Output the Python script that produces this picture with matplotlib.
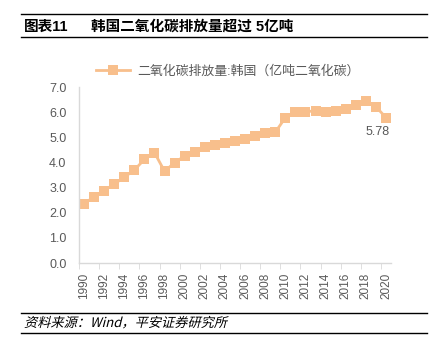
"""
韩国二氧化碳排放量 (1990-2020) line chart
"""
import matplotlib
matplotlib.use('Agg')
import matplotlib.pyplot as plt
from matplotlib.lines import Line2D
from matplotlib.textpath import TextPath
from matplotlib.patches import PathPatch
from matplotlib.font_manager import FontProperties
from matplotlib.transforms import Affine2D

plt.rcParams['font.family'] = ['Liberation Sans', 'Noto Sans CJK SC']

years = [str(y) for y in range(1990, 2021)]
emissions = [2.35, 2.64, 2.88, 3.14, 3.41, 3.70, 4.12, 4.39, 3.65, 3.99,
             4.26, 4.43, 4.60, 4.69, 4.76, 4.86, 4.92, 5.05, 5.16, 5.20,
             5.78, 6.01, 6.01, 6.06, 6.01, 6.06, 6.11, 6.30, 6.44, 6.22,
             5.78]
series_name = '二氧化碳排放量:韩国（亿吨二氧化碳）'
title_no = '图表11'
title = '韩国二氧化碳排放量超过 5亿吨'
source = '资料来源：Wind，平安证券研究所'

orange = '#F8BF8C'
grey = '#595959'

fig = plt.figure(figsize=(4.3, 3.52), dpi=100)
ax = fig.add_axes([0.1837, 0.2528, 0.7256, 0.5])

x = list(range(len(years)))
ax.plot(x, emissions, color=orange, lw=2.0, marker='s', ms=6.5,
        markeredgewidth=0)
ax.annotate(f'{emissions[-1]:.2f}', (x[-1], emissions[-1]),
            xytext=(-6, -6), textcoords='offset points', ha='center', va='top',
            fontsize=9, color=grey)

ax.set_xlim(-0.5, len(years) - 0.5)
ax.set_ylim(0, 7)
ax.set_yticks([i for i in range(8)])
ax.set_yticklabels([f'{i:.1f}' for i in range(8)], fontsize=9, color=grey)
ax.set_xticks(x[::2])
ax.set_xticklabels(years[::2], rotation=90, fontsize=8.5, color=grey)
ax.set_xticks([i - 0.5 for i in range(0, len(years) + 1, 2)], minor=True)
ax.tick_params(axis='x', which='major', length=0, pad=7)
ax.tick_params(axis='x', which='minor', length=4, color='#d9d9d9')
ax.tick_params(axis='y', length=0, pad=9)

for s in ['top', 'right']:
    ax.spines[s].set_visible(False)
for s in ['left', 'bottom']:
    ax.spines[s].set_color('#d9d9d9')
    ax.spines[s].set_linewidth(1)

handle = Line2D([], [], color=orange, lw=2.0, marker='s', ms=6.5,
                markeredgewidth=0)
fig.legend([handle], [series_name], loc='center', bbox_to_anchor=(0.53, 0.797),
           frameon=False, fontsize=9.3, labelcolor=grey, handlelength=2.6,
           handletextpad=0.6)

# header and footer rules
for yy in [14, 37, 313, 333]:
    fig.add_artist(Line2D([0.049, 0.993], [1 - yy / 352] * 2, color='black', lw=1))
fig.text(0.056, 1 - 27 / 352, title_no, fontsize=10.5, fontweight='bold',
         va='center', ha='left')
fig.text(0.212, 1 - 27 / 352, title, fontsize=10.5, fontweight='bold',
         va='center', ha='left')

# footer in slanted (fake italic) text, since the CJK font has no italic
fp = FontProperties(family='Noto Sans CJK SC', size=9.5)
tp = TextPath((0, 0), source, prop=fp)
trans = (Affine2D().skew_deg(14, 0).scale(1 / 72)
         .translate(24 / 100, (352 - 327) / 100) + fig.dpi_scale_trans)
fig.add_artist(PathPatch(tp, transform=trans, color='black', lw=0))

fig.savefig('out.png', dpi=100)
